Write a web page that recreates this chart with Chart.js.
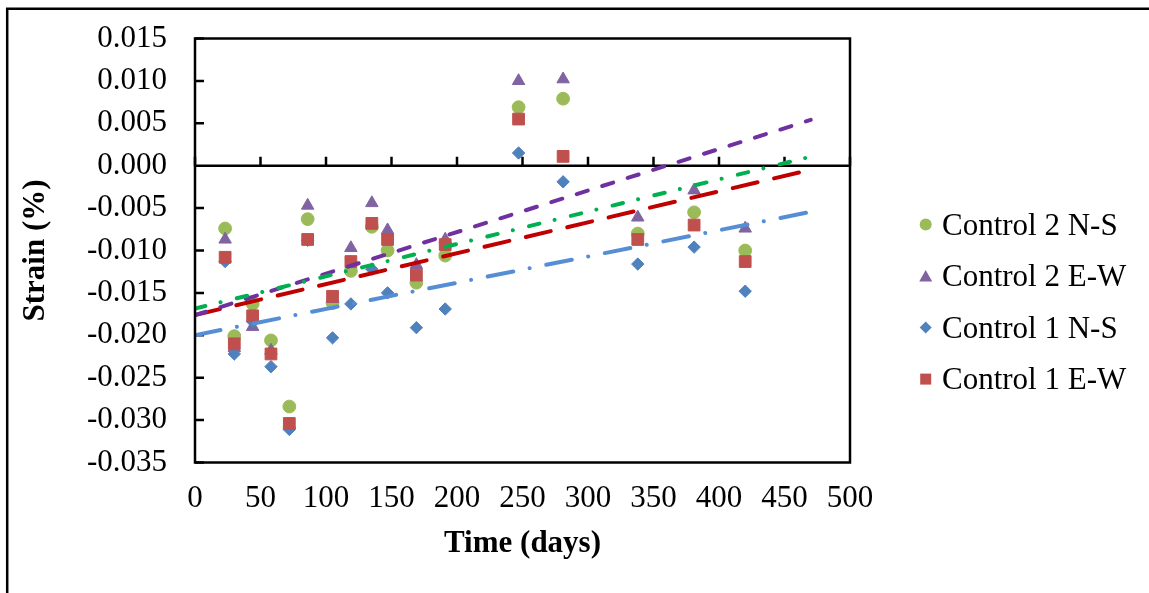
<!DOCTYPE html>
<html>
<head>
<meta charset="utf-8">
<script src="https://cdn.jsdelivr.net/npm/chart.js@4.4.0/dist/chart.umd.min.js"></script>
<style>
html,body{margin:0;padding:0;background:#fff;}
#wrap{position:relative;width:1149px;height:593px;}
canvas{display:block;}
</style>
</head>
<body>
<div id="wrap"><canvas id="c" width="1149" height="593" style="width:1149px;height:593px"></canvas></div>
<script>
// ---- data ----
const days = [23, 30, 44, 58, 72, 86, 105, 119, 135, 147, 169, 191, 247, 281, 338, 381, 420];
const control2NS = [-0.0074, -0.0201, -0.0163, -0.0206, -0.0284, -0.0063, -0.0162, -0.0124, -0.0072, -0.0100, -0.0138, -0.0106, 0.0069, 0.0079, -0.0080, -0.0055, -0.0100];
const control2EW = [-0.0087, -0.0215, -0.0190, -0.0218, -0.0305, -0.0047, -0.0157, -0.0097, -0.0044, -0.0076, -0.0117, -0.0087, 0.0100, 0.0102, -0.0061, -0.0029, -0.0074];
const control1NS = [-0.0113, -0.0222, -0.0184, -0.0237, -0.0311, -0.0088, -0.0203, -0.0163, -0.0122, -0.0150, -0.0191, -0.0169, 0.0015, -0.0019, -0.0116, -0.0096, -0.0148];
const control1EW = [-0.0108, -0.0210, -0.0177, -0.0222, -0.0304, -0.0087, -0.0154, -0.0113, -0.0068, -0.0087, -0.0129, -0.0093, 0.0055, 0.0011, -0.0087, -0.0070, -0.0113];
const seriesLabels = ['Control 2 N-S', 'Control 2 E-W', 'Control 1 N-S', 'Control 1 E-W'];
const xTickValues = [0, 50, 100, 150, 200, 250, 300, 350, 400, 450, 500];
const yTickValues = [-0.035, -0.030, -0.025, -0.020, -0.015, -0.010, -0.005, 0.000, 0.005, 0.010, 0.015];
const trendStart = 0, trendEnd = 470;
const xTitle = 'Time (days)';
const yTitle = 'Strain (%)';

// ---- helpers ----
function toPoints(xs, ys) { return xs.map((x, i) => ({x: x, y: ys[i]})); }
function linearFit(xs, ys) {
  const n = xs.length;
  const mx = xs.reduce((a, b) => a + b, 0) / n;
  const my = ys.reduce((a, b) => a + b, 0) / n;
  let sxy = 0, sxx = 0;
  for (let i = 0; i < n; i++) { sxy += (xs[i] - mx) * (ys[i] - my); sxx += (xs[i] - mx) * (xs[i] - mx); }
  const b = sxy / sxx;
  const a = my - b * mx;
  return [{x: trendStart, y: a + b * trendStart}, {x: trendEnd, y: a + b * trendEnd}];
}

const FONT = "'Liberation Serif', 'Times New Roman', serif";
Chart.defaults.font.family = FONT;
Chart.defaults.font.size = 31;
Chart.defaults.color = '#000';

const markerSeries = [
  {label: seriesLabels[0], data: control2NS, color: '#9BBB59', style: 'circle', r: 6.4, order: 4},
  {label: seriesLabels[1], data: control2EW, color: '#8064A2', style: 'triangle', r: 7.2, order: 3},
  {label: seriesLabels[2], data: control1NS, color: '#4F81BD', style: 'rectRot', r: 6.2, order: 2},
  {label: seriesLabels[3], data: control1EW, color: '#C0504D', style: 'rect', r: 8.3, order: 1}
];
const trendSeries = [
  {data: control2NS, color: '#00B050', dash: [10.7, 15.6, 0.01, 16.7]},
  {data: control2EW, color: '#7030A0', dash: [11.5, 15.2]},
  {data: control1NS, color: '#558ED5', dash: [26, 16.7, 0.01, 17]},
  {data: control1EW, color: '#C00000', dash: [25.5, 17]}
];

const datasets = [];
markerSeries.forEach(s => {
  datasets.push({
    label: s.label, data: toPoints(days, s.data), order: s.order,
    pointStyle: s.style, pointRadius: s.r, pointHoverRadius: s.r,
    backgroundColor: s.color, borderColor: s.color, pointBorderWidth: 1, showLine: false
  });
});
trendSeries.forEach(t => {
  datasets.push({
    label: 'trend', data: linearFit(days, t.data), order: 0, showLine: true,
    pointRadius: 0, borderColor: t.color, borderWidth: 4, borderDash: t.dash,
    borderCapStyle: 'round', fill: false, tension: 0
  });
});

const decorPlugin = {
  id: 'decor',
  beforeDraw(chart) {
    const ctx = chart.ctx;
    ctx.save();
    ctx.strokeStyle = '#000';
    ctx.lineWidth = 2.5;
    ctx.beginPath();
    ctx.moveTo(7.2, chart.height + 2);
    ctx.lineTo(7.2, 8.7);
    ctx.lineTo(chart.width + 2, 8.7);
    ctx.stroke();
    ctx.restore();
  },
  beforeDatasetsDraw(chart) {
    const {ctx, chartArea: a, scales: {x, y}} = chart;
    const zy = y.getPixelForValue(0);
    ctx.save();
    ctx.strokeStyle = '#000';
    ctx.lineWidth = 2.5;
    ctx.beginPath();
    ctx.moveTo(a.left, zy); ctx.lineTo(a.right, zy);
    yTickValues.forEach(v => { const py = y.getPixelForValue(v); ctx.moveTo(a.left, py); ctx.lineTo(a.left + 9, py); });
    xTickValues.forEach(v => { const px = x.getPixelForValue(v); ctx.moveTo(px, zy); ctx.lineTo(px, zy - 9); });
    ctx.stroke();
    ctx.restore();
  },
  afterDatasetsDraw(chart) {
    const {ctx, chartArea: a} = chart;
    ctx.save();
    ctx.strokeStyle = '#000';
    ctx.lineWidth = 2.5;
    ctx.strokeRect(a.left, a.top, a.right - a.left, a.bottom - a.top);
    ctx.restore();
  },
  afterDraw(chart) {
    const ctx = chart.ctx;
    ctx.save();
    ctx.font = '31px ' + FONT;
    ctx.textBaseline = 'alphabetic';
    ctx.textAlign = 'left';
    markerSeries.forEach((s, i) => {
      const cx = 925.7, cy = 224.6 + i * 51.5;
      ctx.fillStyle = s.color;
      ctx.beginPath();
      if (s.style === 'circle') { ctx.arc(cx, cy, 6, 0, Math.PI * 2); }
      else if (s.style === 'triangle') { ctx.moveTo(cx, cy - 6); ctx.lineTo(cx + 6.5, cy + 5.5); ctx.lineTo(cx - 6.5, cy + 5.5); ctx.closePath(); }
      else if (s.style === 'rectRot') { ctx.moveTo(cx, cy - 6); ctx.lineTo(cx + 6, cy); ctx.lineTo(cx, cy + 6); ctx.lineTo(cx - 6, cy); ctx.closePath(); }
      else { ctx.rect(cx - 5.5, cy - 5.5, 11, 11); }
      ctx.fill();
      ctx.fillStyle = '#000';
      ctx.fillText(s.label, 942, cy + 10);
    });
    ctx.restore();
  }
};

new Chart(document.getElementById('c'), {
  type: 'scatter',
  data: {datasets: datasets},
  options: {
    responsive: false,
    animation: false,
    events: [],
    layout: {padding: {top: 38.5, right: 299, bottom: 0, left: 0}},
    plugins: {legend: {display: false}, tooltip: {enabled: false}},
    scales: {
      x: {
        type: 'linear', min: 0, max: 500,
        grid: {display: false, drawTicks: false}, border: {display: false},
        afterBuildTicks: s => { s.ticks = xTickValues.map(v => ({value: v})); },
        afterFit: s => { s.height = 130.5; s.paddingLeft = 0; s.paddingRight = 0; },
        ticks: {padding: 18, autoSkip: false, maxRotation: 0, callback: v => String(v), font: {size: 31}},
        title: {display: true, text: xTitle, font: {size: 31, weight: 'bold'}, padding: {top: 0, bottom: 30}}
      },
      y: {
        type: 'linear', min: -0.035, max: 0.015,
        grid: {display: false, drawTicks: false}, border: {display: false},
        afterBuildTicks: s => { s.ticks = yTickValues.map(v => ({value: v})); },
        afterFit: s => { s.width = 195; s.paddingTop = 0; s.paddingBottom = 0; },
        ticks: {padding: 28, autoSkip: false, callback: v => (Math.abs(v) < 1e-9 ? 0 : v).toFixed(3), font: {size: 31}},
        title: {display: true, text: yTitle, font: {size: 31, weight: 'bold'}, padding: {top: 17, bottom: 0}}
      }
    }
  },
  plugins: [decorPlugin]
});
</script>
</body>
</html>
